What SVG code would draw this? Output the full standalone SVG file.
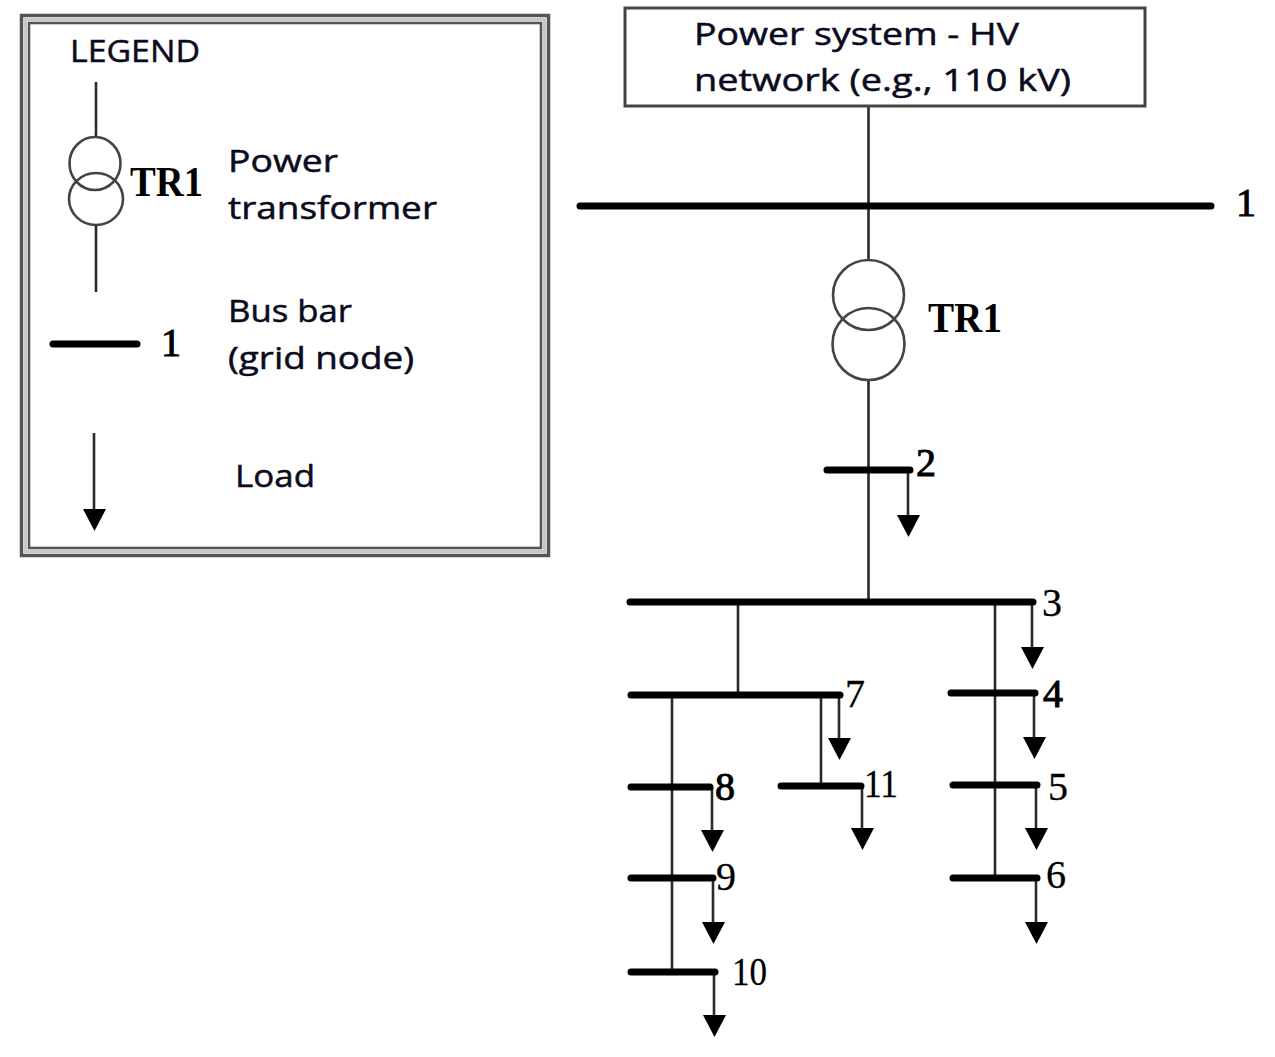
<svg xmlns="http://www.w3.org/2000/svg" xmlns:xlink="http://www.w3.org/1999/xlink" width="1275" height="1057" viewBox="0 0 1275 1057">
<style>
.bg{fill:#ffffff}
.wire{stroke:#2a2a2a;stroke-width:2.6;fill:none}
.bus{stroke:#000;stroke-width:7;stroke-linecap:round;fill:none}
.xf{stroke:#444;stroke-width:2.6;fill:none}
.frame{fill:none}
.sans{font-family:"Open Sans","Liberation Sans",sans-serif;font-size:31px;fill:#0b0b1e;stroke:#0b0b1e;stroke-width:0.5}
.num{font-family:"Liberation Serif","Times New Roman",serif;font-size:40px;fill:#000;stroke:#000;stroke-width:0.3}
.numb{font-family:"Liberation Serif","Times New Roman",serif;font-size:40px;fill:#000;stroke:#000;stroke-width:1}
.tr{font-family:"Liberation Serif","Times New Roman",serif;font-size:42px;font-weight:bold;fill:#000}
.head{fill:#000}
</style>
<defs>
<path id="arrow" d="M-11.5,0 L11.5,0 L0,22 Z"/>
</defs>
<rect class="bg" x="0" y="0" width="1275" height="1057"/>

<g id="legend">
<rect class="frame" x="21.5" y="15.5" width="527" height="540" stroke="#555" stroke-width="3.5"/>
<rect class="frame" x="25.5" y="19.5" width="519" height="532" stroke="#c8c8c8" stroke-width="3"/>
<rect class="frame" x="29" y="23" width="512" height="525" stroke="#555" stroke-width="2.6"/>
<text class="sans" x="70" y="62" textLength="130" lengthAdjust="spacingAndGlyphs">LEGEND</text>
<g id="legend-transformer">
<line class="wire" x1="96" y1="82" x2="96" y2="137"/>
<ellipse class="xf" cx="95" cy="163.5" rx="25.5" ry="26.5"/>
<ellipse class="xf" cx="96" cy="199" rx="27" ry="26"/>
<line class="wire" x1="96" y1="225" x2="96" y2="292"/>
<text class="tr" x="130" y="196" textLength="73" lengthAdjust="spacingAndGlyphs">TR1</text>
<text class="sans" x="228" y="172" textLength="110" lengthAdjust="spacingAndGlyphs">Power</text>
<text class="sans" x="228" y="219" textLength="209" lengthAdjust="spacingAndGlyphs">transformer</text>
</g>
<g id="legend-busbar">
<line class="bus" x1="53" y1="344" x2="137" y2="344"/>
<text class="numb" x="161" y="356">1</text>
<text class="sans" x="228" y="322" textLength="124" lengthAdjust="spacingAndGlyphs">Bus bar</text>
<text class="sans" x="228" y="369" textLength="186" lengthAdjust="spacingAndGlyphs">(grid node)</text>
</g>
<g id="legend-load">
<line class="wire" x1="94" y1="433" x2="94" y2="512"/>
<use xlink:href="#arrow" class="head" x="94.5" y="509"/>
<text class="sans" x="235" y="487" textLength="80" lengthAdjust="spacingAndGlyphs">Load</text>
</g>
</g>

<g id="connectors">
<line class="wire" x1="868.5" y1="106" x2="868.5" y2="260"/>
<line class="wire" x1="868.5" y1="380" x2="868.5" y2="602"/>
<line class="wire" x1="738" y1="602" x2="738" y2="695"/>
<line class="wire" x1="672" y1="695" x2="672" y2="972"/>
<line class="wire" x1="821" y1="695" x2="821" y2="786"/>
<line class="wire" x1="995" y1="602" x2="995" y2="878"/>
<line class="wire" x1="908" y1="470" x2="908" y2="518"/>
<line class="wire" x1="1032" y1="602" x2="1032" y2="650"/>
<line class="wire" x1="839" y1="695" x2="839" y2="741"/>
<line class="wire" x1="862" y1="786" x2="862" y2="831"/>
<line class="wire" x1="712" y1="787" x2="712" y2="833"/>
<line class="wire" x1="713" y1="878" x2="713" y2="925"/>
<line class="wire" x1="714" y1="972" x2="714" y2="1018"/>
<line class="wire" x1="1034" y1="693" x2="1034" y2="740"/>
<line class="wire" x1="1036" y1="785" x2="1036" y2="831"/>
<line class="wire" x1="1036" y1="878" x2="1036" y2="925"/>
</g>

<g id="hv-network">
<rect x="625" y="8" width="520" height="98" fill="#fff" stroke="#444" stroke-width="3"/>
<text class="sans" x="694" y="45" textLength="325" lengthAdjust="spacingAndGlyphs">Power system - HV</text>
<text class="sans" x="694" y="91" textLength="377" lengthAdjust="spacingAndGlyphs">network (e.g., 110 kV)</text>
</g>

<g id="bus1">
<line class="bus" x1="580" y1="206" x2="1211" y2="206"/>
<text class="numb" x="1236" y="216">1</text>
</g>

<g id="TR1">
<ellipse class="xf" cx="868.5" cy="295" rx="35.5" ry="35"/>
<ellipse class="xf" cx="868.5" cy="344" rx="36" ry="36"/>
<text class="tr" x="928" y="332" textLength="74" lengthAdjust="spacingAndGlyphs">TR1</text>
</g>

<g id="bus2">
<line class="bus" x1="827" y1="470" x2="910" y2="470"/>
<text class="numb" x="916" y="476">2</text>
<use xlink:href="#arrow" class="head" x="908.5" y="515"/>
</g>

<g id="bus3">
<line class="bus" x1="630" y1="602" x2="1033" y2="602"/>
<text class="num" x="1042" y="616">3</text>
<use xlink:href="#arrow" class="head" x="1032.5" y="647"/>
</g>

<g id="bus4">
<line class="bus" x1="951" y1="693" x2="1035" y2="693"/>
<text class="numb" x="1043" y="707">4</text>
<use xlink:href="#arrow" class="head" x="1034.5" y="737"/>
</g>

<g id="bus5">
<line class="bus" x1="953" y1="785" x2="1037" y2="785"/>
<text class="num" x="1048" y="800">5</text>
<use xlink:href="#arrow" class="head" x="1036.5" y="828"/>
</g>

<g id="bus6">
<line class="bus" x1="953" y1="878" x2="1037" y2="878"/>
<text class="num" x="1046" y="888">6</text>
<use xlink:href="#arrow" class="head" x="1036.5" y="922"/>
</g>

<g id="bus7">
<line class="bus" x1="631" y1="695" x2="840" y2="695"/>
<text class="num" x="845" y="707">7</text>
<use xlink:href="#arrow" class="head" x="839.5" y="738"/>
</g>

<g id="bus8">
<line class="bus" x1="631" y1="787" x2="710" y2="787"/>
<text class="numb" x="715" y="800">8</text>
<use xlink:href="#arrow" class="head" x="712.5" y="830"/>
</g>

<g id="bus9">
<line class="bus" x1="631" y1="878" x2="713" y2="878"/>
<text class="num" x="716" y="890">9</text>
<use xlink:href="#arrow" class="head" x="713.5" y="922"/>
</g>

<g id="bus10">
<line class="bus" x1="631" y1="972" x2="715" y2="972"/>
<text class="num" x="732" y="985" textLength="35" lengthAdjust="spacingAndGlyphs">10</text>
<use xlink:href="#arrow" class="head" x="714.5" y="1015"/>
</g>

<g id="bus11">
<line class="bus" x1="781" y1="786" x2="861" y2="786"/>
<text class="num" x="864" y="797" textLength="34" lengthAdjust="spacingAndGlyphs">11</text>
<use xlink:href="#arrow" class="head" x="862.5" y="828"/>
</g>
</svg>
